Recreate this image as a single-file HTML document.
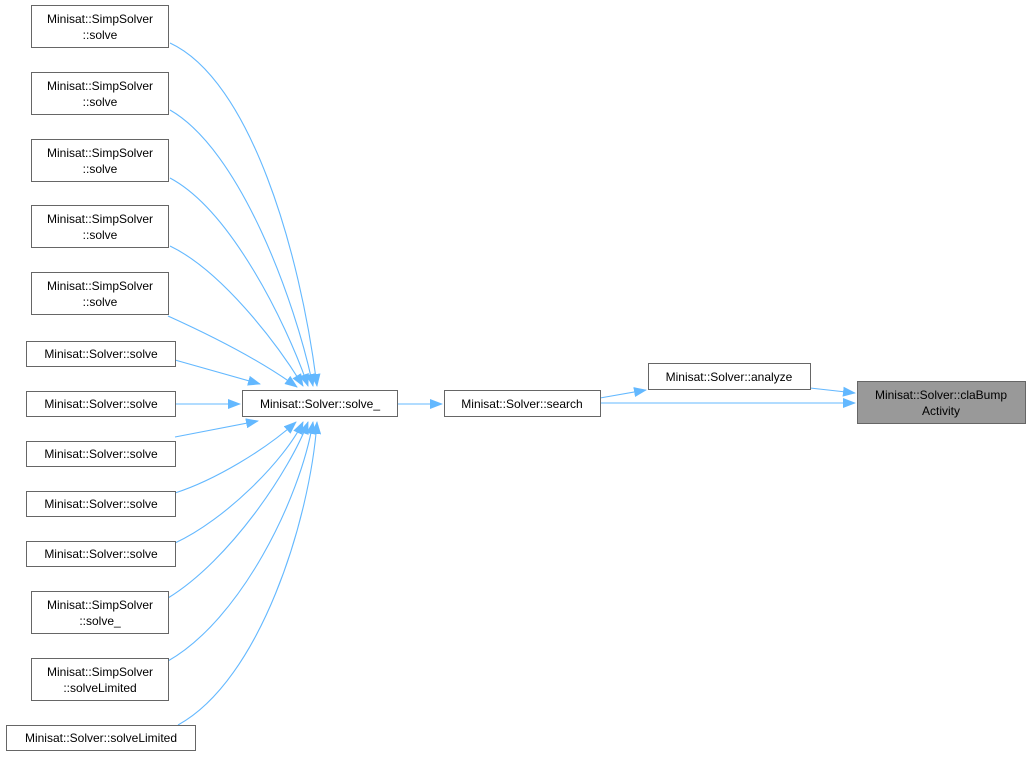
<!DOCTYPE html>
<html><head><meta charset="utf-8"><style>
body{margin:0;background:#fff;}
svg text{font-family:"Liberation Sans",Arial,sans-serif;font-size:12px;fill:#000;}
</style></head><body>
<svg width="1030" height="757" viewBox="0 0 1030 757" xmlns="http://www.w3.org/2000/svg">
<defs><marker id="a" markerWidth="13" markerHeight="10" refX="12" refY="5" orient="auto" markerUnits="userSpaceOnUse"><path d="M0,0 L13,5 L0,10 Z" fill="#63b8ff"/></marker></defs>
<g fill="none" stroke="#63b8ff" stroke-width="1.1" marker-end="url(#a)">
<path d="M170,43 C250,80 300,250 317,386"/>
<path d="M170,110 C240,150 295,300 313,386"/>
<path d="M170,178 C230,210 285,320 308,386"/>
<path d="M170,246 C220,270 275,340 303,386"/>
<path d="M168,316 C210,335 260,360 297,387"/>
<path d="M175,360 L260,384"/>
<path d="M175,404 L240,404"/>
<path d="M175,437 L258,421"/>
<path d="M175,493 C215,480 265,450 296,422"/>
<path d="M175,543 C225,520 285,460 303,422"/>
<path d="M168,598 C230,560 290,470 308,422"/>
<path d="M168,661 C240,620 300,500 313,422"/>
<path d="M178,725 C260,680 310,520 317,422"/>
<path d="M397,404 L442,404"/>
<path d="M600,398 L646,390"/>
<path d="M600,403 L855,403"/>
<path d="M810,388 L855,393"/>
</g>
<g fill="#fff" stroke="#666" stroke-width="1">
<rect x="31.5" y="5.5" width="137" height="42"/>
<rect x="31.5" y="72.5" width="137" height="42"/>
<rect x="31.5" y="139.5" width="137" height="42"/>
<rect x="31.5" y="205.5" width="137" height="42"/>
<rect x="31.5" y="272.5" width="137" height="42"/>
<rect x="26.5" y="341.5" width="149" height="25"/>
<rect x="26.5" y="391.5" width="149" height="25"/>
<rect x="26.5" y="441.5" width="149" height="25"/>
<rect x="26.5" y="491.5" width="149" height="25"/>
<rect x="26.5" y="541.5" width="149" height="25"/>
<rect x="31.5" y="591.5" width="137" height="42"/>
<rect x="31.5" y="658.5" width="137" height="42"/>
<rect x="6.5" y="725.5" width="189" height="25"/>
<rect x="242.5" y="390.5" width="155" height="26"/>
<rect x="444.5" y="390.5" width="156" height="26"/>
<rect x="648.5" y="363.5" width="162" height="26"/>
<rect x="857.5" y="381.5" width="168" height="42" fill="#999"/>
</g>
<g text-anchor="middle">
<text x="100" y="23">Minisat::SimpSolver</text><text x="100" y="39">::solve</text>
<text x="100" y="90">Minisat::SimpSolver</text><text x="100" y="106">::solve</text>
<text x="100" y="157">Minisat::SimpSolver</text><text x="100" y="173">::solve</text>
<text x="100" y="223">Minisat::SimpSolver</text><text x="100" y="239">::solve</text>
<text x="100" y="290">Minisat::SimpSolver</text><text x="100" y="306">::solve</text>
<text x="101" y="358">Minisat::Solver::solve</text>
<text x="101" y="408">Minisat::Solver::solve</text>
<text x="101" y="458">Minisat::Solver::solve</text>
<text x="101" y="508">Minisat::Solver::solve</text>
<text x="101" y="558">Minisat::Solver::solve</text>
<text x="100" y="609">Minisat::SimpSolver</text><text x="100" y="625">::solve_</text>
<text x="100" y="676">Minisat::SimpSolver</text><text x="100" y="692">::solveLimited</text>
<text x="101" y="742">Minisat::Solver::solveLimited</text>
<text x="320" y="408">Minisat::Solver::solve_</text>
<text x="522" y="408">Minisat::Solver::search</text>
<text x="729" y="381">Minisat::Solver::analyze</text>
<text x="941" y="399">Minisat::Solver::claBump</text><text x="941" y="415">Activity</text>
</g>
</svg>
</body></html>
